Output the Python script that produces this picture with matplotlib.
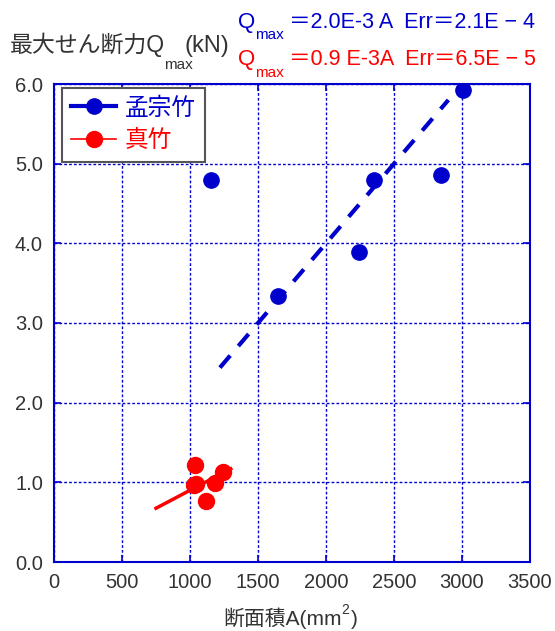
import matplotlib.pyplot as plt
import numpy as np
from matplotlib.lines import Line2D

plt.rcParams['font.family'] = ['Liberation Sans', 'Noto Sans CJK JP', 'DejaVu Sans']

# 孟宗竹 (blue)
moso_A = np.array([1154, 1645, 2243, 2353, 2843, 3005])
moso_Q = np.array([4.80, 3.34, 3.89, 4.79, 4.86, 5.93])
moso_slope = 2.0e-3
moso_fit_A = np.array([1220, 2900])

# 真竹 (red)
madake_A = np.array([1037, 1029, 1045, 1118, 1184, 1245])
madake_Q = np.array([1.22, 0.97, 0.98, 0.77, 0.99, 1.13])
madake_slope = 0.9e-3
madake_fit_A = np.array([750, 1300])

xticks = np.arange(0, 3501, 500)
yticks = np.arange(0, 6.01, 1.0)

blue = '#0000cc'
red = '#ff0000'
gray = '#333333'

W, H = 555, 631
fig = plt.figure(figsize=(W / 100, H / 100), dpi=100)
ax = fig.add_axes([54 / W, 1 - 562 / H, (530 - 54) / W, (562 - 84) / H])


def px(x, y):
    return x / W, 1 - y / H


ax.plot(moso_fit_A, moso_slope * moso_fit_A, color=blue, lw=3, dashes=(3.8, 3.0))
ax.plot(madake_fit_A, madake_slope * madake_fit_A, color=red, lw=2.5)
ax.plot(moso_A, moso_Q, 'o', color=blue, ms=11, zorder=3)
ax.plot(madake_A, madake_Q, 'o', color=red, ms=11.5, zorder=3)

ax.set_xlim(0, 3500)
ax.set_ylim(0, 6.0)
ax.set_xticks(xticks)
ax.set_yticks(yticks)
ax.set_yticklabels(['%.1f' % v for v in yticks])
ax.grid(True, color=blue, linestyle=(0, (2, 1.5)), linewidth=1)
for s in ax.spines.values():
    s.set_color(blue)
    s.set_linewidth(1.5)
ax.tick_params(direction='in', top=True, right=True, color=blue, length=5, width=1.2,
               labelsize=14.5, labelcolor=gray)
ax.tick_params(axis='x', pad=8)
ax.tick_params(axis='y', pad=8)

# legend
handles = [Line2D([], [], color=blue, lw=3, marker='o', ms=11),
           Line2D([], [], color=red, lw=1.2, marker='o', ms=11.5)]
leg = fig.legend(handles, ['孟宗竹', '真竹'], loc='upper left', bbox_to_anchor=px(62, 88),
                 fancybox=False, framealpha=1, edgecolor='#555555', fontsize=17,
                 handlelength=1.9, handletextpad=0.35, borderpad=0.4, labelspacing=0.45,
                 borderaxespad=0)
leg.get_frame().set_linewidth(1.5)
leg.get_texts()[0].set_color(blue)
leg.get_texts()[1].set_color(red)

# y label
fig.text(*px(10, 52), '最大せん断力Q', fontsize=16.5, color=gray, va='baseline')
fig.text(*px(164, 69), 'max', fontsize=11, color=gray, va='baseline')
fig.text(*px(185, 52), '(kN)', fontsize=17, color=gray, va='baseline')

# x label
xl = fig.text(*px(223, 625), '断面積A(mm', fontsize=15, color=gray, va='baseline')
ax.annotate('2', xy=(1, 0.55), xycoords=xl, fontsize=10, color=gray, va='bottom',
            annotation_clip=False)
ax.annotate(')', xy=(1, 0), xycoords=xl, xytext=(6.5, 0), textcoords='offset points',
            fontsize=15, color=gray, va='bottom', annotation_clip=False)

# fit equations
fig.text(*px(238, 28), 'Q', fontsize=16, color=blue, va='baseline')
fig.text(*px(255, 39), 'max', fontsize=11, color=blue, va='baseline')
fig.text(*px(289, 28), '＝2.0E-3 A  Err＝2.1E − 4', fontsize=15.5, color=blue, va='baseline')
fig.text(*px(238, 65), 'Q', fontsize=16, color=red, va='baseline')
fig.text(*px(255, 77), 'max', fontsize=11, color=red, va='baseline')
fig.text(*px(289, 65), '＝0.9 E-3A  Err＝6.5E − 5', fontsize=15.5, color=red, va='baseline')

fig.savefig('out.png', dpi=100)
